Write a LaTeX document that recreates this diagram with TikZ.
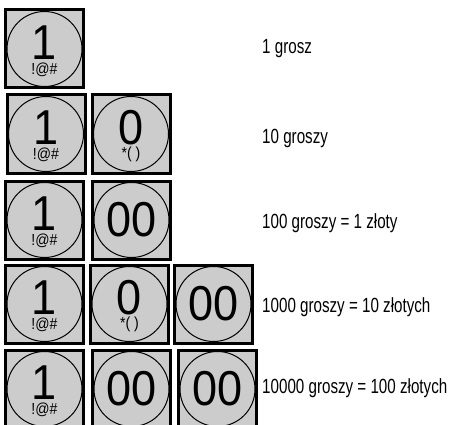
\documentclass[tikz,border=0pt]{standalone}
\usepackage{fontspec}
\setmainfont{Liberation Sans}
\newfontfamily\keyfont{Liberation Sans}[FakeStretch=0.92]
\newfontfamily\subfont{Liberation Sans}[FakeStretch=0.88]
\newfontfamily\labelfont{Liberation Sans}[FakeStretch=0.74]
\usetikzlibrary{positioning}

\begin{document}
\begin{tikzpicture}[
    x=1pt, y=-1pt,
    key/.style={draw, rectangle, line width=3pt, fill=black!20, minimum size=78pt, inner sep=0pt,
        font=\keyfont\fontsize{49}{50}\selectfont,
        path picture={\draw[line width=1pt] (path picture bounding box.center) circle (37.5pt);}},
    keysub/.style={text depth=13pt, label={[font=\subfont\fontsize{16}{17}\selectfont, yshift=-20.5pt]center:#1}},
    money/.style={anchor=base west, inner sep=0pt, font=\labelfont\fontsize{20.5}{24}\selectfont}
]
\useasboundingbox (0,0) rectangle (452,425);

% Klawisze
\node (k11) [key, keysub={!@\#}] at (44.5,49) {1};

\node (k21) [key, keysub={!@\#}, below=4pt of k11, xshift=1.5pt] {1};
\node (k22) [key, keysub={*( )}, right=4pt of k21] {0};

\node (k31) [key, keysub={!@\#}, below=5pt of k21, xshift=-1.5pt] {1};
\node (k32) [key, right=6pt of k31] {00};

\node (k41) [key, keysub={!@\#}, below=3pt of k31] {1};
\node (k42) [key, keysub={*( )}, right=4pt of k41] {0};
\node (k43) [key, right=3pt of k42] {00};

\node (k51) [key, keysub={!@\#}, below=4pt of k41] {1};
\node (k52) [key, right=6pt of k51] {00};
\node (k53) [key, right=5pt of k52] {00};

% Opisy
\node (lab1) [money] at (262,54) {1 grosz};
\node (lab2) [money] at (262,143) {10 groszy};
\node (lab3) [money] at (262,228) {100 groszy = 1 złoty};
\node (lab4) [money] at (262,312) {1000 groszy = 10 złotych};
\node (lab5) [money] at (262,393) {10000 groszy = 100 złotych};

\end{tikzpicture}
\end{document}
